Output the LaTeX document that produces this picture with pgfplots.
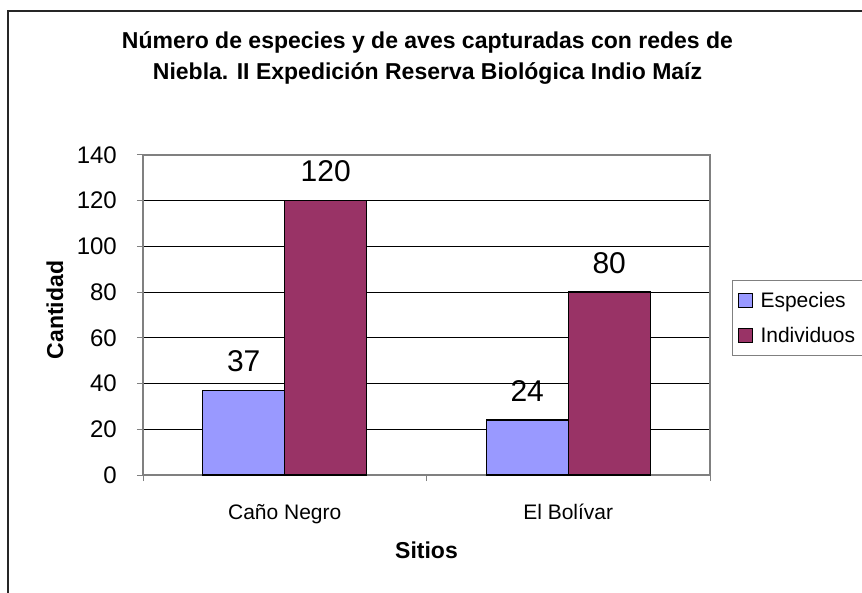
\documentclass[border=0pt]{standalone}
\usepackage{fontspec}
\setmainfont{Liberation Sans}
\usepackage{pgfplots}
\pgfplotsset{compat=1.18}
\definecolor{esp}{HTML}{9999FF}
\definecolor{ind}{HTML}{993366}
\definecolor{axc}{HTML}{808080}
\begin{document}
\begin{tikzpicture}[x=1pt,y=1pt]
\useasboundingbox (0,0) rectangle (862,592);
\draw[line width=1.5pt, black!85] (8,-2) -- (8,581) -- (864,581);
\node[font=\fontsize{23}{27}\selectfont\bfseries, anchor=base, inner sep=0pt] at (427.5,543) {Número de especies y de aves capturadas con redes de};
\node[font=\fontsize{23}{27}\selectfont\bfseries, anchor=base, inner sep=0pt] at (427.5,512) {Niebla. II Expedición Reserva Biológica Indio Maíz};
\node[font=\fontsize{23}{27}\selectfont\bfseries, anchor=base, inner sep=0pt] at (426.5,34) {Sitios};
\node[font=\fontsize{23}{27}\selectfont\bfseries, anchor=base, inner sep=0pt, rotate=90] at (63,282) {Cantidad};
\begin{axis}[
  at={(143pt,117pt)}, anchor=south west,
  scale only axis, width=567pt, height=320pt,
  ybar=0pt, bar width=82pt,
  xmin=-0.5, xmax=1.5, ymin=0, ymax=140,
  /pgf/number format/assume math mode=true,
  axis line style={draw=axc, line width=1.5pt},
  tick align=outside, xtick pos=bottom, ytick pos=left,
  major tick length=6pt,
  tick style={draw=axc, line width=1pt},
  xtick={-0.5,0.5,1.5}, xticklabels={},
  extra x ticks={0,1},
  extra x tick labels={Caño Negro,El Bolívar},
  extra x tick style={tick style={draw=none}},
  xticklabel style={font=\fontsize{21}{25}\selectfont, anchor=base, inner sep=0pt, yshift=-38pt},
  ytick={20,40,...,120},
  ymajorgrids,
  major grid style={black, line width=0.8pt},
  extra y ticks={0,140},
  extra y tick style={grid=none},
  yticklabel style={font=\fontsize{24}{28}\selectfont, anchor=east, inner sep=0pt, xshift=-20pt},
  nodes near coords,
  every node near coord/.append style={font=\fontsize{30}{36}\selectfont, anchor=south, inner sep=0pt, yshift=18pt, black},
  legend style={at={(1,0.5)}, anchor=west, xshift=22pt, yshift=-3pt, draw=axc, line width=1pt,
    font=\fontsize{21}{25}\selectfont, inner xsep=5pt, inner ysep=10pt, row sep=14pt,
    /tikz/every odd column/.append style={column sep=6pt}},
  legend cell align=left,
  legend image code/.code={\draw[#1,draw=black,line width=1pt] (0pt,-7pt) rectangle (14pt,7pt);},
]
\addplot[fill=esp, draw=black, line width=1.3pt] coordinates {(0,37) (1,24)};
\addplot[fill=ind, draw=black, line width=1.3pt] coordinates {(0,120) (1,80)};
\legend{Especies,Individuos}
\end{axis}
\end{tikzpicture}
\end{document}
